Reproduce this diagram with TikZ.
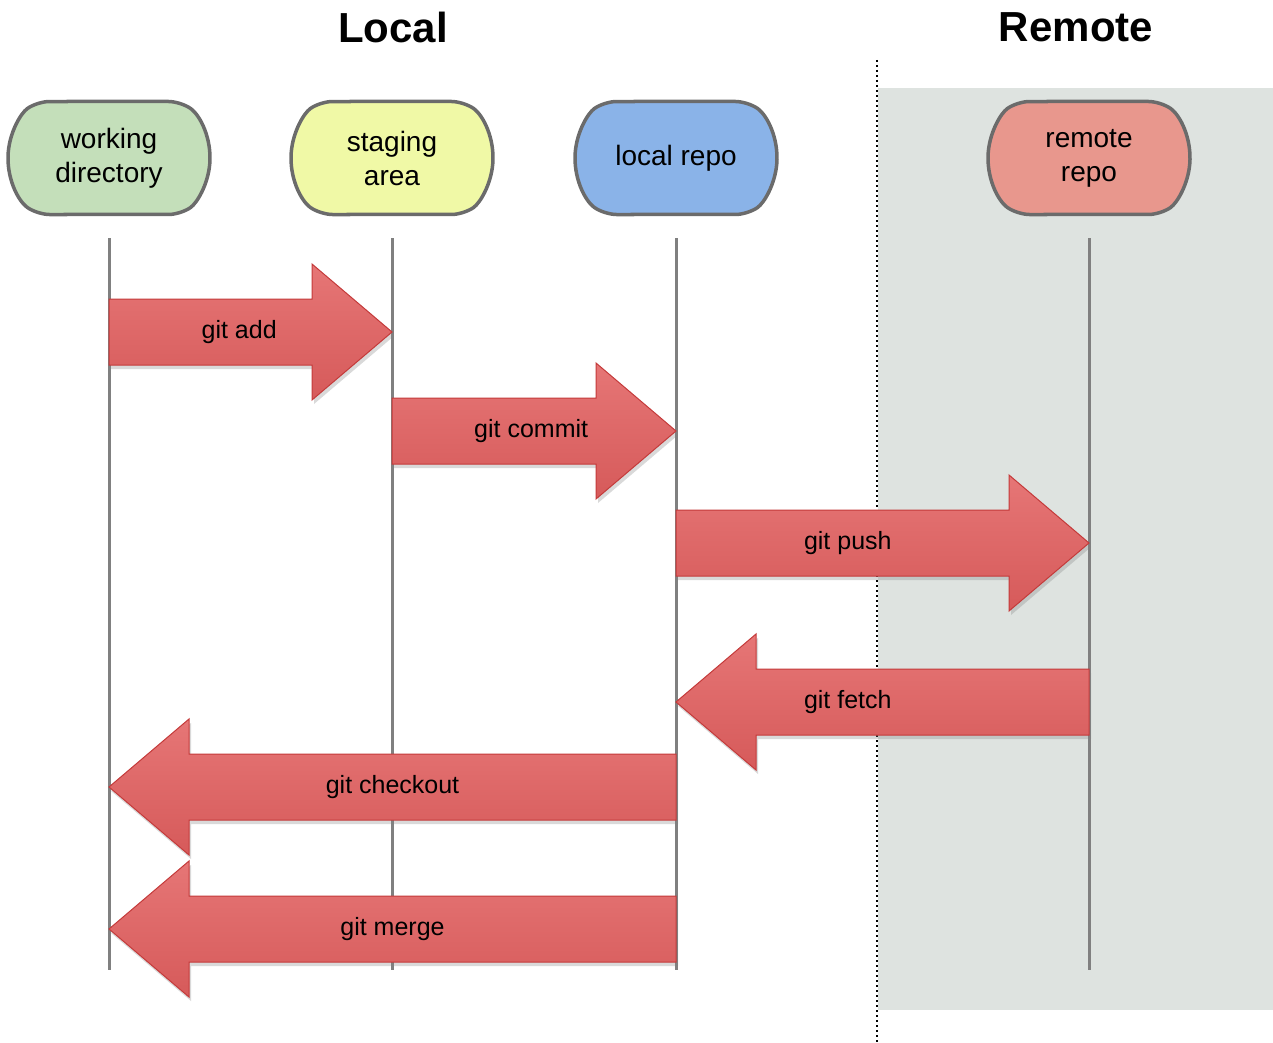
\documentclass[tikz,border=0pt]{standalone}
\usepackage{fontspec}
\setmainfont{Liberation Sans}
\usetikzlibrary{calc, shapes.misc, shadows}

\definecolor{wdcol}{HTML}{C4DFBA}
\definecolor{sacol}{HTML}{F0F9A6}
\definecolor{lrcol}{HTML}{8AB3E8}
\definecolor{rrcol}{HTML}{E8978D}
\definecolor{rmbg}{HTML}{DEE3E0}
\definecolor{arrtop}{HTML}{E67676}
\definecolor{arrbot}{HTML}{D65A5A}
\definecolor{arrbd}{HTML}{C43A3A}

% big git arrow: [label pos]{row}{from lifeline}{to lifeline}{text}
\newcommand\gitarrow[5][0.5]{%
  \coordinate (#2-hb) at ($(#4 |- #2)!80pt!(#3 |- #2)$);
  \draw[ga] ($(#3 |- #2)+(0,-33)$) -- ($(#2-hb)+(0,-33)$) -- ($(#2-hb)+(0,-68)$)
    -- (#4 |- #2) -- ($(#2-hb)+(0,68)$) -- ($(#2-hb)+(0,33)$) -- ($(#3 |- #2)+(0,33)$) -- cycle;
  \node[gl] (#2-l) at ($(#3 |- #2)!#1!(#4 |- #2)$) {#5};}

\begin{document}
\begin{tikzpicture}[x=1pt,y=-1pt,
    st/.style={rounded rectangle, rounded rectangle arc length=110, draw=black!58,
      line width=3.5pt, minimum width=202pt, minimum height=113pt, inner sep=0pt,
      rounded corners=12pt, align=center, font=\fontsize{28}{34}\selectfont},
    ll/.style={draw=black!50, line width=3pt},
    ga/.style={draw=arrbd, line width=1pt, top color=arrtop, bottom color=arrbot,
      drop shadow={opacity=0.3, shadow xshift=2pt, shadow yshift=-4pt}},
    gl/.style={font=\fontsize{25}{29}\selectfont, inner sep=0pt},
    ttl/.style={font=\fontsize{42}{46}\selectfont\bfseries, inner sep=0pt}]
  \useasboundingbox (0,0) rectangle (1273,1043);

  % remote side
  \fill[rmbg] (878,88) rectangle (1273,1010);
  \draw[line width=1.5pt, dash pattern=on 2pt off 3pt] (877,60) -- (877,1043);

  \node[ttl] (local) at (393,27) {Local};
  \node[ttl] (remote) at (1076,27) {Remote};

  \node[st, fill=wdcol] (wd) at (109,158) {working\\directory};
  \node[st, fill=sacol] (sa) at (392,158) {staging\\area};
  \node[st, fill=lrcol] (lr) at (676,158) {local repo};
  \node[st, fill=rrcol] (rr) at (1089,158) {remote\\repo};

  \coordinate (end) at (0,970);
  \foreach \n in {wd, sa, lr, rr}
    \draw[ll] ($(\n.south)+(0,22)$) -- (\n |- end);

  \coordinate (add) at (0,332);
  \coordinate (commit) at (0,431);
  \coordinate (push) at (0,543);
  \coordinate (fetch) at (0,702);
  \coordinate (checkout) at (0,787);
  \coordinate (merge) at (0,929);

  \gitarrow[0.46]{add}{wd}{sa}{git add}
  \gitarrow[0.49]{commit}{sa}{lr}{git commit}
  \gitarrow[0.416]{push}{lr}{rr}{git push}
  \gitarrow[0.584]{fetch}{rr}{lr}{git fetch}
  \gitarrow{checkout}{lr}{wd}{git checkout}
  \gitarrow{merge}{lr}{wd}{git merge}
\end{tikzpicture}
\end{document}
